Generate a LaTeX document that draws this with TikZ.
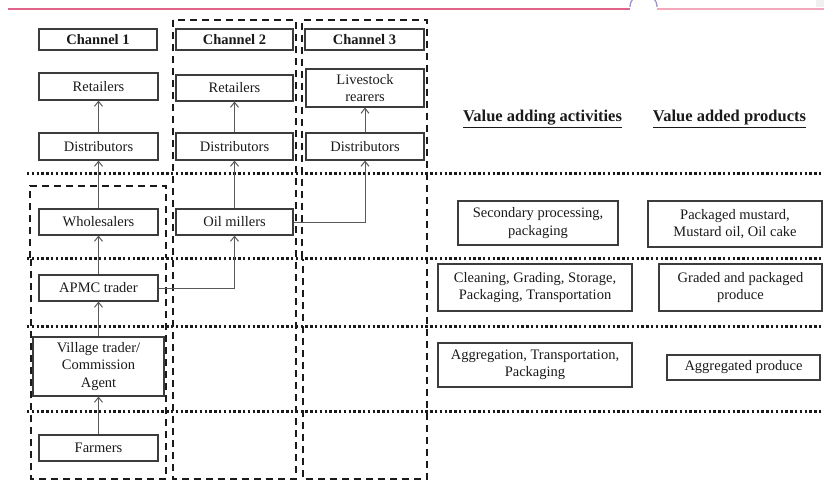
\documentclass[tikz,border=0pt]{standalone}
\usepackage{fontspec}
\setmainfont{Liberation Serif}
\usetikzlibrary{arrows.meta}
\definecolor{ink}{HTML}{1A1A1A}
\definecolor{rule}{HTML}{E0648A}
\definecolor{rulelight}{HTML}{F2A7BC}
\definecolor{tab}{HTML}{A391CC}
\begin{document}
\begin{tikzpicture}[x=1pt,y=-1pt,
  box/.style={draw=ink!85, line width=1.1pt, inner sep=0pt, align=center,
    font=\fontsize{14.5}{17.5}\selectfont, text=ink},
  head/.style={box, font=\fontsize{14.5}{17.5}\selectfont\bfseries},
  title/.style={inner sep=0pt, text=ink, font=\fontsize{16.5}{20}\selectfont\bfseries},
  flow/.style={draw=black!65, line width=1pt,
    -{Straight Barb[length=5pt,width=8pt,line width=1pt]}},
  band/.style={draw=ink, line width=3pt, dash pattern=on 2.4pt off 2.4pt},
  lane/.style={draw=ink, line width=2.2pt, dash pattern=on 7pt off 5pt},
]
\useasboundingbox (0,0) rectangle (824,484);

% page header rule with tab
\draw[rule, line width=2.4pt] (8,9) -- (630,9);
\draw[rulelight, line width=2.2pt] (657,9) -- (824,9);
\draw[tab, line width=1.3pt] (630,7) arc[start angle=180, end angle=360, radius=13.5];
\fill[gray!12] (816,0) rectangle (824,7);

% stage separators
\foreach \yy in {173,258,326,411}
  \draw[band] (27,\yy) -- (824,\yy);

% channel lanes
\draw[lane] (30,258) -- (30,186) -- (166,186) -- (166,258);
\draw[lane] (31,259) -- (31,479) -- (166,479) -- (166,259);
\draw[lane] (173,20) -- (173,479) -- (296,479) -- (296,20) -- cycle;
\draw[lane] (302,258) -- (302,20) -- (427,20) -- (427,479) -- (303,479) -- (303,259);

% channel headers
\node[head, minimum width=118pt, minimum height=21pt] (c1) at (98,39.5) {Channel 1};
\node[head, minimum width=117pt, minimum height=21pt] (c2) at (234.5,39.5) {Channel 2};
\node[head, minimum width=119pt, minimum height=21pt] (c3) at (364.5,39.5) {Channel 3};

% actors
\node[box, minimum width=119pt, minimum height=27pt] (r1) at (98.5,86.5) {Retailers};
\node[box, minimum width=117pt, minimum height=26pt] (r2) at (234.5,88) {Retailers};
\node[box, minimum width=118pt, minimum height=38pt] (ls) at (365,88) {Livestock\\rearers};
\node[box, minimum width=119pt, minimum height=27pt] (d1) at (98.5,146.5) {Distributors};
\node[box, minimum width=117pt, minimum height=27pt] (d2) at (234.5,146.5) {Distributors};
\node[box, minimum width=118pt, minimum height=27pt] (d3) at (365,146.5) {Distributors};
\node[box, minimum width=119pt, minimum height=26pt] (wh) at (98.5,222) {Wholesalers};
\node[box, minimum width=117pt, minimum height=26pt] (om) at (234.5,222) {Oil millers};
\node[box, minimum width=119pt, minimum height=26pt] (ap) at (98.5,288) {APMC trader};
\node[box, minimum width=131pt, minimum height=59pt] (vt) at (98.5,366.5) {Village trader/\\Commission\\Agent};
\node[box, minimum width=119pt, minimum height=26pt] (fa) at (98.5,448) {Farmers};

% value chain columns
\node[title] (h1) at (542.5,119) {\underline{Value adding activities}};
\node[title] (h2) at (729.5,119) {\underline{Value added products}};
\node[box, minimum width=160pt, minimum height=44pt] (sp) at (538,223) {Secondary processing,\\packaging};
\node[box, minimum width=174pt, minimum height=46pt] (pm) at (735,224) {Packaged mustard,\\Mustard oil, Oil cake};
\node[box, minimum width=194pt, minimum height=47pt] (cl) at (535,287.5) {Cleaning, Grading, Storage,\\Packaging, Transportation};
\node[box, minimum width=163pt, minimum height=47pt] (gp) at (740.5,287.5) {Graded and packaged\\produce};
\node[box, minimum width=194pt, minimum height=44pt] (ag) at (535,365) {Aggregation, Transportation,\\Packaging};
\node[box, minimum width=153pt, minimum height=25pt] (apd) at (743.5,367.5) {Aggregated produce};

% flows
\draw[flow] (fa) -- (vt);
\draw[flow] (vt) -- (ap);
\draw[flow] (ap) -- (wh);
\draw[flow] (wh) -- (d1);
\draw[flow] (d1) -- (r1);
\draw[flow] (ap.east) -| (om.south);
\draw[flow] (om) -- (d2);
\draw[flow] (d2) -- (r2);
\draw[flow] (om.east) -| (d3.south);
\draw[flow] (d3) -- (ls);
\end{tikzpicture}
\end{document}
